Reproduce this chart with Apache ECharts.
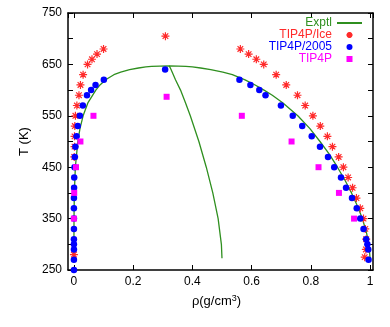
<!DOCTYPE html>
<html>
<head>
<meta charset="utf-8">
<script src="https://cdn.jsdelivr.net/npm/echarts@6/dist/echarts.min.js"></script>
<style>
html,body{margin:0;padding:0;background:#fff;}
#c{width:390px;height:327px;}
</style>
</head>
<body>
<div id="c"></div>
<script>
// Experimental coexistence curve [rho, T]: vapour branch up to the critical point, then liquid branch down
const exptl = [
  [0.000005,273],[0.00003,300],[0.0003,350],[0.0014,400],[0.0048,450],[0.0132,500],[0.0204,525],
  [0.031,550],[0.047,575],[0.074,600],[0.088,610],[0.107,620],[0.135,630],[0.158,635],[0.188,640],
  [0.218,643],[0.243,645],[0.262,646],[0.29,646.8],[0.322,647.1],
  [0.352,646.8],[0.378,646],[0.40,645],[0.428,643],[0.462,640],[0.503,635],[0.535,630],[0.578,620],
  [0.612,610],[0.642,600],[0.670,590],[0.706,575],[0.756,550],[0.797,525],[0.831,500],[0.863,475],
  [0.890,450],[0.915,425],[0.9375,400],[0.957,375],[0.974,350],[0.987,325],[0.9965,300],[1.0,273]
];
// Experimental rectilinear diameter [rho, T]
const exptlDiameter = [
  [0.322,647.1],[0.328,640],[0.343,620],[0.360,600],[0.377,575],[0.393,550],[0.422,500],
  [0.447,450],[0.469,400],[0.487,350],[0.498,300],[0.500,273]
];
// TIP4P/Ice [rho, T]
const tip4pIce = [
  [0.000,280],[0.001,470],[0.002,490],[0.002,510],[0.003,530],[0.005,550],[0.010,570],[0.017,590],
  [0.022,610],[0.031,630],[0.046,650],[0.061,660],[0.078,670],[0.100,680],
  [0.309,705],
  [0.562,680],[0.590,670],[0.616,660],[0.641,650],[0.683,630],[0.717,610],[0.755,590],[0.781,570],
  [0.807,550],[0.832,530],[0.856,510],[0.873,490],[0.894,470],[0.910,450],[0.926,430],[0.941,410],
  [0.954,390],[0.967,370],[0.978,350],[0.984,330],[0.987,310],[0.986,290],[0.982,275]
];
// TIP4P/2005 [rho, T]
const tip4p2005 = [
  [0.000,250],[0.000,270],[0.000,290],[0.000,300],[0.000,310],[0.000,330],[0.000,350],[0.000,370],
  [0.000,390],[0.0005,410],[0.001,430],[0.002,450],[0.003,470],[0.005,490],[0.009,510],[0.013,530],
  [0.020,550],[0.030,570],[0.044,590],[0.058,600],[0.073,610],[0.101,620],
  [0.308,640],
  [0.559,620],[0.596,610],[0.626,600],[0.647,590],[0.699,570],[0.739,550],[0.771,530],[0.803,510],
  [0.831,490],[0.858,470],[0.879,450],[0.902,430],[0.919,410],[0.939,390],[0.955,370],[0.967,350],
  [0.978,330],[0.987,310],[0.991,300],[0.994,290],[0.995,270]
];
// TIP4P [rho, T]
const tip4p = [
  [0.000,350],[0.001,400],[0.007,450],[0.022,500],[0.066,550],
  [0.313,587],
  [0.567,550],[0.735,500],[0.826,450],[0.895,400],[0.946,350]
];
const seriesNames = ['Exptl','TIP4P/Ice','TIP4P/2005','TIP4P'];
const yTicks = [250,350,450,550,650,750];

const GREEN = '#2f8f1f', RED = '#ff2a2a', BLUE = '#0000ff', MAG = '#ff00ff';
const FONT = 'Liberation Sans';
const asterisk = 'path://M5,0L5,10M0,5L10,5M1.5,1.5L8.5,8.5M1.5,8.5L8.5,1.5';
const square = 'path://M0,0L10,0L10,10L0,10Z';

const chart = echarts.init(document.getElementById('c'), null, {renderer:'canvas'});
const xBase = {
  type:'value', min:-0.02, max:1.01, splitNumber:5,
  splitLine:{show:false},
  axisLine:{show:true, onZero:false, lineStyle:{color:'#000', width:1.5}},
  axisTick:{show:true, inside:true, length:5, lineStyle:{color:'#000', width:1}}
};
const yBase = {
  type:'value', min:250, max:750, interval:50,
  splitLine:{show:false},
  axisLine:{show:true, onZero:false, lineStyle:{color:'#000', width:1.5}},
  axisTick:{show:true, inside:true, length:5, lineStyle:{color:'#000', width:1}}
};
chart.setOption({
  backgroundColor:'#fff',
  animation:false,
  grid:{left:68, right:17, top:13, bottom:57, containLabel:false},
  legend:{
    orient:'vertical', right:27, top:17, padding:0, align:'right',
    itemWidth:25, itemHeight:6, itemGap:0,
    textStyle:{fontFamily:FONT, fontSize:12, lineHeight:10.6},
    data:[
      {name:seriesNames[0], textStyle:{color:GREEN}, itemStyle:{color:'rgba(0,0,0,0)', opacity:0, borderWidth:0}},
      {name:seriesNames[1], textStyle:{color:RED}},
      {name:seriesNames[2], textStyle:{color:BLUE}},
      {name:seriesNames[3], textStyle:{color:MAG}}
    ]
  },
  xAxis:[
    Object.assign({}, xBase, {
      position:'bottom',
      axisLabel:{show:true, margin:6, color:'#000', fontFamily:FONT, fontSize:12,
        showMinLabel:false, showMaxLabel:false},
      name:'ρ(g/cm{sup|3})', nameLocation:'middle', nameGap:24,
      nameTextStyle:{color:'#000', fontFamily:FONT, fontSize:13, padding:[0,8,0,0],
        rich:{sup:{fontFamily:FONT, fontSize:9, verticalAlign:'top', padding:[0,0,6,0]}}}
    }),
    Object.assign({}, xBase, {position:'top', axisLabel:{show:false}})
  ],
  yAxis:[
    Object.assign({}, yBase, {
      position:'left',
      axisLabel:{show:true, margin:6, color:'#000', fontFamily:FONT, fontSize:12,
        formatter:function(v){ return yTicks.indexOf(v) >= 0 ? String(v) : ''; }},
      name:'T (K)', nameLocation:'middle', nameGap:24, nameRotate:90,
      nameTextStyle:{color:'#000', fontFamily:FONT, fontSize:13}
    }),
    Object.assign({}, yBase, {position:'right', axisLabel:{show:false}})
  ],
  series:[
    {name:seriesNames[0], type:'line', data:exptl, showSymbol:false, symbol:'none',
      lineStyle:{color:GREEN, width:1.3}, itemStyle:{color:GREEN}, z:1},
    {name:seriesNames[0], type:'line', data:exptlDiameter, showSymbol:false, symbol:'none',
      lineStyle:{color:GREEN, width:1.3}, itemStyle:{color:GREEN}, z:1},
    {name:seriesNames[1], type:'scatter', data:tip4pIce, symbol:asterisk, symbolSize:8, symbolKeepAspect:true,
      itemStyle:{color:'rgba(0,0,0,0)', borderColor:RED, borderWidth:1.2, opacity:1}, z:2},
    {name:seriesNames[2], type:'scatter', data:tip4p2005, symbol:'circle', symbolSize:6.5,
      itemStyle:{color:BLUE, opacity:1}, z:3},
    {name:seriesNames[3], type:'scatter', data:tip4p, symbol:square, symbolSize:6, symbolKeepAspect:true,
      itemStyle:{color:MAG, opacity:1}, z:4}
  ]
});
</script>
</body>
</html>
